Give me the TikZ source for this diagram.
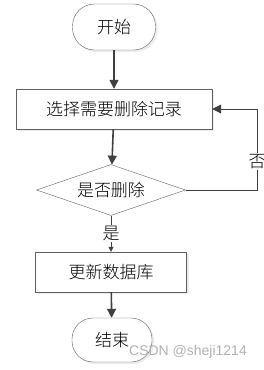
\documentclass[tikz,border=0pt]{standalone}
\usepackage{fontspec}
\newfontfamily\cjk{Noto Sans CJK SC Light}[BoldFont={Noto Sans CJK SC}]
\newfontfamily\wmfont{Liberation Sans}
\usetikzlibrary{shapes.geometric,arrows.meta,shadows}
\definecolor{linegray}{HTML}{404040}
\definecolor{edgegray}{HTML}{606060}
\tikzset{
  every node/.style={font=\cjk\fontsize{17}{20}\selectfont, text=black},
  term/.style={draw=edgegray, fill=white, rounded corners=22pt, minimum width=83pt, minimum height=46pt,
    drop shadow={shadow xshift=2pt, shadow yshift=-2pt, fill=black!15}},
  proc/.style={draw=edgegray, fill=white, minimum height=40pt,
    drop shadow={shadow xshift=2pt, shadow yshift=-2pt, fill=black!15}},
  decide/.style={diamond, draw=edgegray, fill=white, aspect=3, inner sep=0pt, minimum width=149pt, minimum height=51pt},
  flow/.style={draw=linegray, line width=1.6pt, -{Triangle[length=9pt,width=9pt]}},
}
\begin{document}
\begin{tikzpicture}[x=1pt,y=-1pt]
\useasboundingbox (0,0) rectangle (264,370);
\node[term](A) at (114,27){开始};
\node[proc, minimum width=196pt](B) at (114,109){选择需要删除记录};
\node[decide](C) at (111,190){是否删除};
\node[proc, minimum width=151pt](D) at (111,272){更新数据库};
\node[term, minimum width=80pt, minimum height=44pt, rounded corners=21pt](E) at (112,340){结束};
\coordinate(C1) at (257,190);
\coordinate(C2) at (257,109);

\draw[flow](A)--(B);
\draw[flow](B)--(C);
\draw[draw=linegray, line width=0.8pt, -{Triangle[length=5pt,width=5pt]}](C)--node[fill=white, inner sep=1pt, pos=0.5]{是}(D);
\draw[flow](D)--(E);
\draw[draw=linegray, line width=0.8pt, -{Triangle[length=9pt,width=9pt]}](C.east)--(C1)--node[fill=white, inner sep=1pt, pos=0.35]{否}(C2)--(B);

\node[text=black!30, font=\wmfont\fontsize{14}{16}\selectfont](W) at (188,352){CSDN @sheji1214};
\end{tikzpicture}
\end{document}
